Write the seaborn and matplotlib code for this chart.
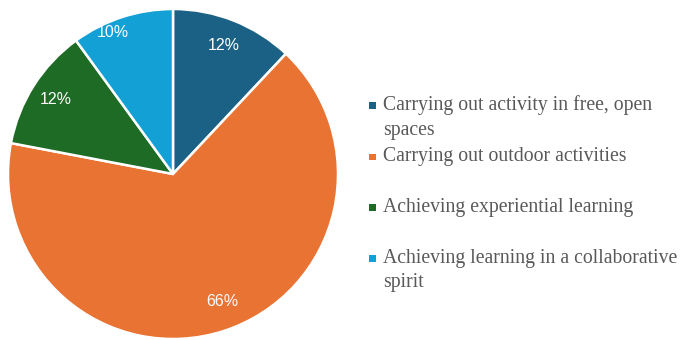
import numpy as np
import matplotlib
matplotlib.use("Agg")
import matplotlib.pyplot as plt
import seaborn as sns
from matplotlib.patches import Rectangle

sns.set_theme(style="white")

categories = [
    "Carrying out activity in free, open\nspaces",
    "Carrying out outdoor activities",
    "Achieving experiential learning",
    "Achieving learning in a collaborative\nspirit",
]
shares = [12, 66, 12, 10]
pct_labels = ["12%", "66%", "12%", "10%"]
colors = ["#1A6185", "#E97332", "#1D6B25", "#13A0D5"]

# label placement: fraction of radius and angular nudge (degrees)
label_radius = [0.84, 0.83, 0.84, 0.93]
label_nudge = [0, 3, 0, 5]

W, H = 680, 340
fig = plt.figure(figsize=(W / 100, H / 100), dpi=100)
fig.patch.set_facecolor("white")
ax = fig.add_axes([8 / W, 1 / H, 330 / W, 330 / H])

wedges, _ = ax.pie(
    shares,
    colors=colors,
    startangle=90,
    counterclock=False,
    radius=1.0,
    wedgeprops=dict(edgecolor="white", linewidth=1.8),
)
ax.set_xlim(-1.0, 1.0)
ax.set_ylim(-1.0, 1.0)
ax.set_aspect("equal")
ax.axis("off")

for w, txt, r, dn in zip(wedges, pct_labels, label_radius, label_nudge):
    mid = np.deg2rad((w.theta1 + w.theta2) / 2 + dn)
    ax.text(r * np.cos(mid), r * np.sin(mid), txt, ha="center", va="center",
            color="white", fontsize=11.5, family=["Liberation Sans", "DejaVu Sans"])

# legend: square marker + serif label, one text per line
baselines = [110.5, 161.5, 212, 263]   # pixel rows from the top
line_step = 24.5
for col, lab, b in zip(colors, categories, baselines):
    fig.patches.append(Rectangle((369 / W, 1 - (b - 1.5) / H), 6.5 / W, 6.5 / H,
                                 transform=fig.transFigure, facecolor=col,
                                 edgecolor="none"))
    for i, line in enumerate(lab.split("\n")):
        fig.text(383 / W, 1 - (b + i * line_step) / H, line, ha="left",
                 va="baseline", fontsize=14.2, color="#595959",
                 family=["Liberation Serif"])

fig.savefig("out.png", dpi=100, facecolor="white")
